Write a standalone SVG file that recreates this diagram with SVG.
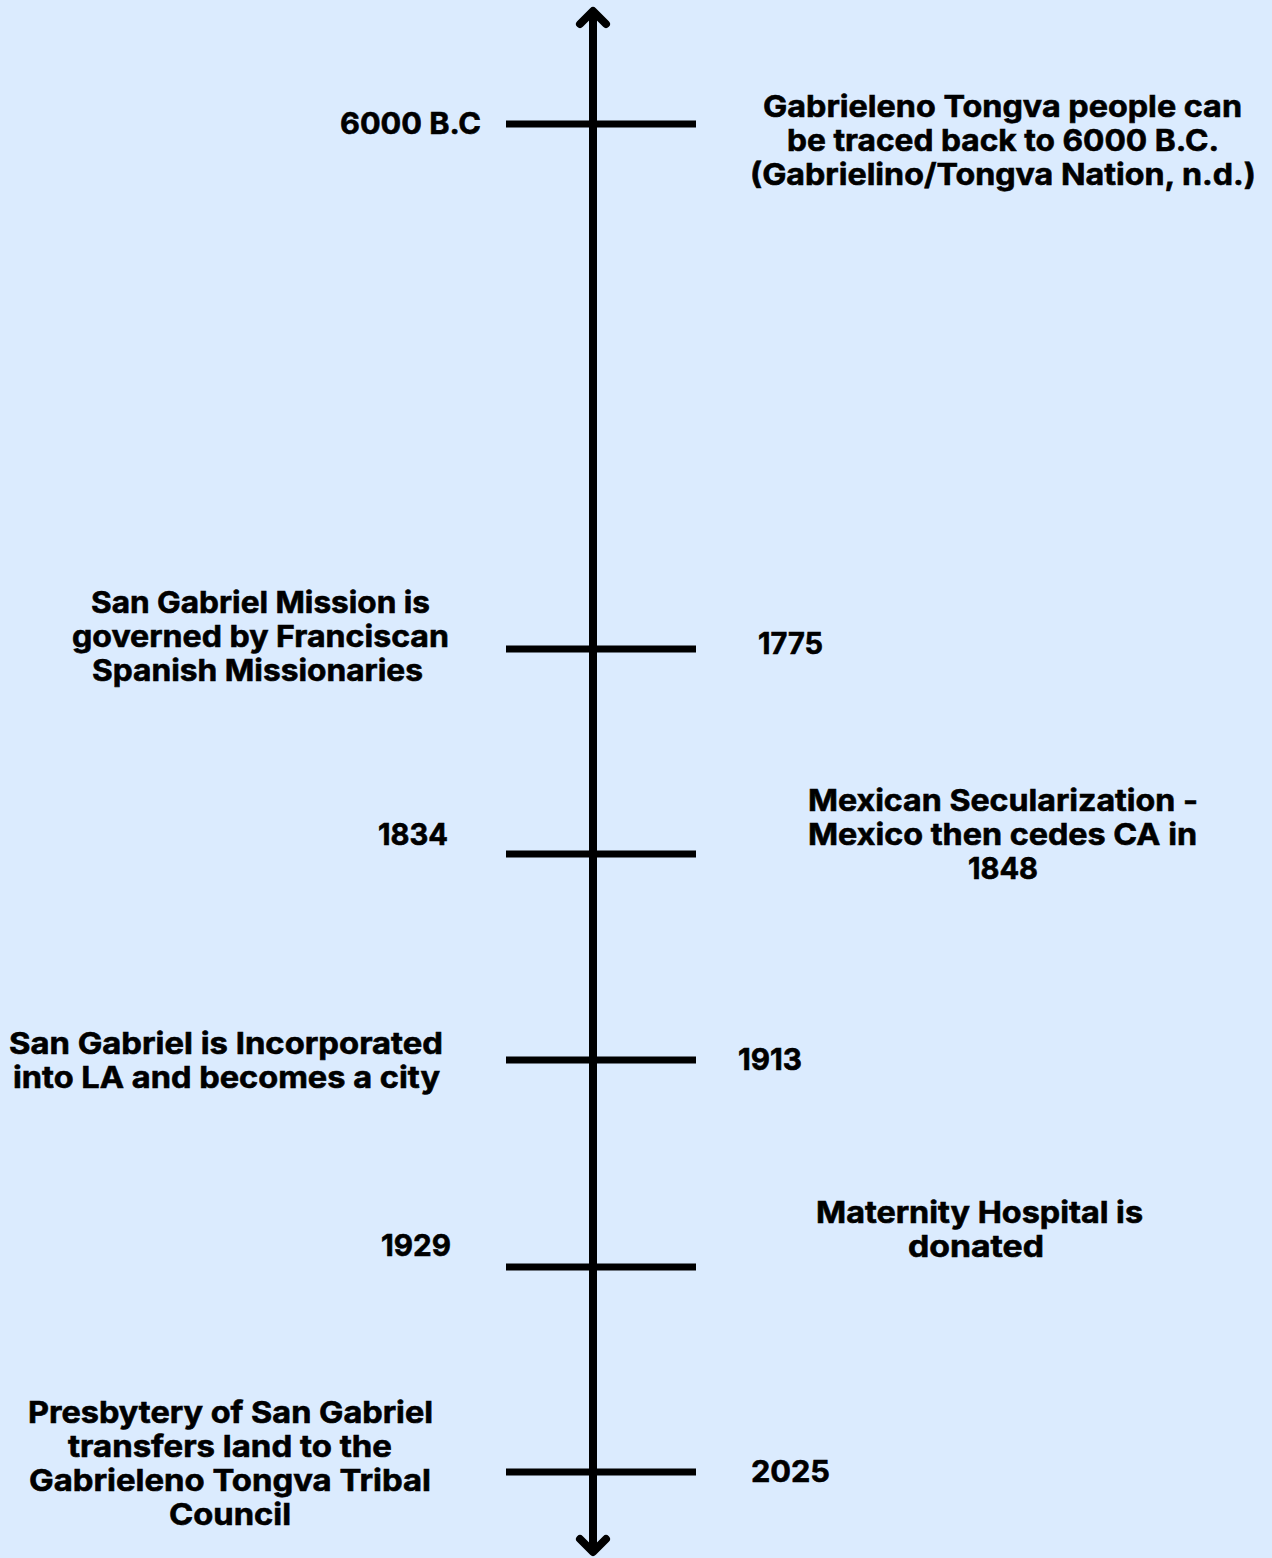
<svg xmlns="http://www.w3.org/2000/svg" width="1272" height="1558" viewBox="0 0 1272 1558">
<style>
.t{font-family:Inter,"Noto Sans","DejaVu Sans",sans-serif;font-weight:700;font-size:30px;fill:#000;stroke:#000;stroke-width:0.6px}
.c{text-anchor:middle}
.r{text-anchor:end}
.ax{stroke:#000;stroke-width:8;fill:none;stroke-linecap:round;stroke-linejoin:round}
.tk{stroke:#000;stroke-width:7;fill:none}
</style>
<rect width="1272" height="1558" fill="#dbebfe"/>
<g id="connectors">
<line class="ax" x1="593" y1="12" x2="593" y2="1550" style="stroke-linecap:butt"/>
<polyline class="ax" points="580,24 593,11 606,24"/>
<polyline class="ax" points="580,1539 593,1552 606,1539"/>
<line class="tk" x1="506" y1="124" x2="696" y2="124"/>
<line class="tk" x1="506" y1="649" x2="696" y2="649"/>
<line class="tk" x1="506" y1="854" x2="696" y2="854"/>
<line class="tk" x1="506" y1="1060" x2="696" y2="1060"/>
<line class="tk" x1="506" y1="1267" x2="696" y2="1267"/>
<line class="tk" x1="506" y1="1472" x2="696" y2="1472"/>
</g>
<g id="e6000">
<text class="t" x="340" y="134" textLength="141" lengthAdjust="spacingAndGlyphs">6000 B.C</text>
<text class="t" x="763" y="117" textLength="479" lengthAdjust="spacingAndGlyphs">Gabrieleno Tongva people can</text>
<text class="t" x="787" y="151" textLength="432" lengthAdjust="spacingAndGlyphs">be traced back to 6000 B.C.</text>
<text class="t" x="750" y="185" textLength="506" lengthAdjust="spacingAndGlyphs">(Gabrielino/Tongva Nation, n.d.)</text>
</g>
<g id="e1775">
<text class="t" x="91" y="613" textLength="339" lengthAdjust="spacingAndGlyphs">San Gabriel Mission is</text>
<text class="t" x="72" y="647" textLength="377" lengthAdjust="spacingAndGlyphs">governed by Franciscan</text>
<text class="t" x="92" y="681" textLength="331" lengthAdjust="spacingAndGlyphs">Spanish Missionaries</text>
<text class="t" x="758" y="654" textLength="65" lengthAdjust="spacingAndGlyphs">1775</text>
</g>
<g id="e1834">
<text class="t" x="378" y="845" textLength="70" lengthAdjust="spacingAndGlyphs">1834</text>
<text class="t" x="808" y="811" textLength="390" lengthAdjust="spacingAndGlyphs">Mexican Secularization -</text>
<text class="t" x="808" y="845" textLength="389" lengthAdjust="spacingAndGlyphs">Mexico then cedes CA in</text>
<text class="t" x="968" y="879" textLength="70" lengthAdjust="spacingAndGlyphs">1848</text>
</g>
<g id="e1913">
<text class="t" x="9" y="1054" textLength="434" lengthAdjust="spacingAndGlyphs">San Gabriel is Incorporated</text>
<text class="t" x="13" y="1088" textLength="427" lengthAdjust="spacingAndGlyphs">into LA and becomes a city</text>
<text class="t" x="738" y="1070" textLength="64" lengthAdjust="spacingAndGlyphs">1913</text>
</g>
<g id="e1929">
<text class="t" x="381" y="1256" textLength="70" lengthAdjust="spacingAndGlyphs">1929</text>
<text class="t" x="816" y="1223" textLength="327" lengthAdjust="spacingAndGlyphs">Maternity Hospital is</text>
<text class="t" x="908" y="1257" textLength="136" lengthAdjust="spacingAndGlyphs">donated</text>
</g>
<g id="e2025">
<text class="t" x="28" y="1423" textLength="405" lengthAdjust="spacingAndGlyphs">Presbytery of San Gabriel</text>
<text class="t" x="68" y="1457" textLength="324" lengthAdjust="spacingAndGlyphs">transfers land to the</text>
<text class="t" x="29" y="1491" textLength="402" lengthAdjust="spacingAndGlyphs">Gabrieleno Tongva Tribal</text>
<text class="t" x="169" y="1525" textLength="122" lengthAdjust="spacingAndGlyphs">Council</text>
<text class="t" x="751" y="1482" textLength="79" lengthAdjust="spacingAndGlyphs">2025</text>
</g>
</svg>
